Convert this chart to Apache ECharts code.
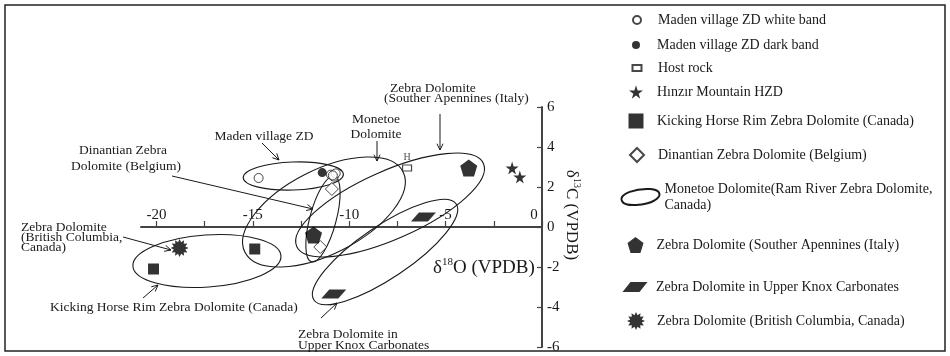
<!DOCTYPE html>
<html><head><meta charset="utf-8">
<script src="https://cdn.jsdelivr.net/npm/echarts@6/dist/echarts.min.js"></script>
<style>html,body{margin:0;padding:0;background:#fff}#c{width:950px;height:356px}</style>
</head><body><div id="c"></div>
<script>
// ---- axis ticks / labels ----
const xTicks = [-20, -17.5, -15, -12.5, -10, -7.5, -5, -2.5, 0];
const xLabels = [-20, -15, -10, -5, 0];
const yTicks = [-6, -4, -2, 0, 2, 4, 6];

// ---- data (δ18O, δ13C) ----
const madenWhite = [[-14.7, 2.45], [-10.95, 2.62], [-10.8, 2.52], [-10.7, 2.68], [-10.85, 2.58]];
const madenDark = [[-11.4, 2.72]];
const hostRock = [[-7.0, 2.95]];
const hinzir = [[-1.55, 2.95], [-1.15, 2.5]];
const kickingHorse = [[-20.15, -2.1], [-14.9, -1.1]];
const dinantian = [[-10.9, 1.9], [-11.5, -1.0]];
const apennines = [[-11.85, -0.4], [-3.8, 2.95]];
const upperKnox = [[-6.15, 0.5], [-10.8, -3.35]];
const britishColumbia = [[-18.8, -1.05]];
// field ellipses: [centre δ18O, centre δ13C, semi-major, semi-minor, tilt deg]
const ellipses = [
  [-12.9, 2.55, 2.6, 0.7, 2],
  [-11.36, 0.4, 2.3, 0.66, 75],
  [-11.31, 0.75, 4.6, 2.1, 27],
  [-7.88, 1.1, 5.3, 1.7, 24],
  [-8.14, -1.25, 4.45, 1.3, 34],
  [-17.38, -1.7, 3.85, 1.3, 4]
];

const names = {
  white: 'Maden village ZD white band',
  dark: 'Maden village ZD dark band',
  host: 'Host rock',
  hinzir: 'H\u0131nz\u0131r Mountain HZD',
  kh: 'Kicking Horse Rim Zebra Dolomite (Canada)',
  din: 'Dinantian Zebra Dolomite (Belgium)',
  mon: 'Monetoe Dolomite(Ram River Zebra Dolomite,\nCanada)',
  ape: 'Zebra Dolomite (Souther Apennines (Italy)',
  knox: 'Zebra Dolomite in Upper Knox Carbonates',
  bc: 'Zebra Dolomite (British Columbia, Canada)'
};

const FONT = '"Liberation Serif", "Times New Roman", serif';
const INK = '#1a1a1a';

// symbol shapes
const STAR = 'path://M50,0 L61,35 L98,35 L68,57 L79,91 L50,70 L21,91 L32,57 L2,35 L39,35 Z';
const PENT = 'path://M50,0 L100,37 L81,100 L19,100 L0,37 Z';
const PARA = 'path://M32,0 L100,0 L68,40 L0,40 Z';
const ELL = 'path://M5,30 C-5,12 40,0 70,2 C95,4 98,18 80,28 C60,40 12,44 5,30 Z';
function burst() {
  let d = '';
  for (let i = 0; i < 24; i++) {
    const r = i % 2 === 0 ? 50 : 33;
    const a = (i * 15 - 90) * Math.PI / 180;
    d += (i === 0 ? 'M' : 'L') + (50 + r * Math.cos(a)).toFixed(1) + ',' + (50 + r * Math.sin(a)).toFixed(1) + ' ';
  }
  return 'path://' + d + 'Z';
}
const BURST = burst();

function renderEllipse(params, api) {
  const c = api.coord([api.value(0), api.value(1)]);
  const s = api.size([api.value(2), api.value(3)]);
  return {
    type: 'ellipse', x: c[0], y: c[1],
    rotation: api.value(4) * Math.PI / 180,
    shape: { cx: 0, cy: 0, rx: s[0], ry: s[1] },
    style: { fill: 'none', stroke: INK, lineWidth: 1.1 },
    silent: true
  };
}

// ---- annotations (layout) ----
const arrows = [
  [440, 114, 440, 150], [377, 141, 377, 161], [262, 143, 279, 160],
  [172, 176, 313, 209], [123, 237, 171, 250], [143, 298, 158, 285], [321, 318, 337, 303]
];
const notes = [
  ['Zebra Dolomite', 390, 88, 'left'], ['(Souther Apennines (Italy)', 384, 98, 'left'],
  ['Monetoe', 376, 119, 'center'], ['Dolomite', 376, 134, 'center'],
  ['Maden village ZD', 264, 136, 'center'],
  ['Dinantian Zebra', 123, 150, 'center'], ['Dolomite (Belgium)', 126, 166, 'center'],
  ['Zebra Dolomite', 21, 227, 'left'], ['(British Columbia,', 21, 237, 'left'], ['Canada)', 21, 247, 'left'],
  ['Kicking Horse Rim Zebra Dolomite (Canada)', 50, 307, 'left'],
  ['Zebra Dolomite in', 298, 334, 'left'], ['Upper Knox Carbonates', 298, 345, 'left']
];

const graphic = [
  { type: 'rect', shape: { x: 5, y: 5, width: 940, height: 346 }, style: { fill: 'none', stroke: '#222', lineWidth: 1.5 }, z: 100 }
];
arrows.forEach(([x1, y1, x2, y2]) => {
  const a = Math.atan2(y2 - y1, x2 - x1), L = 7, sp = 0.45;
  graphic.push({ type: 'line', shape: { x1, y1, x2, y2 }, style: { stroke: INK, lineWidth: 1 } });
  graphic.push({ type: 'polyline', shape: { points: [
    [x2 - L * Math.cos(a - sp), y2 - L * Math.sin(a - sp)], [x2, y2],
    [x2 - L * Math.cos(a + sp), y2 - L * Math.sin(a + sp)]] },
    style: { stroke: INK, lineWidth: 1, fill: 'none' } });
});
notes.forEach(([t, x, y, al]) => {
  graphic.push({ type: 'text', x, y, style: { text: t, fontFamily: FONT, fontSize: 13.5, fill: INK, align: al, verticalAlign: 'middle' } });
});
graphic.push({ type: 'text', x: 433, y: 268, style: {
  text: '{a|\u03b4}{s|18}{a|O (VPDB)}', fontFamily: FONT, fill: INK, align: 'left', verticalAlign: 'middle',
  rich: { a: { fontSize: 19, fontFamily: FONT, fill: INK, lineHeight: 22 }, s: { fontSize: 11, fontFamily: FONT, fill: INK, verticalAlign: 'top', lineHeight: 22 } } } });

// ---- legend layout ----
const legendRows = [
  [names.white, 20, 8, 8, 'circle'],
  [names.dark, 45, 8, 8, 'circle'],
  [names.host, 68, 9, 6, 'rect'],
  [names.hinzir, 92, 14, 14, STAR],
  [names.kh, 121, 15, 15, 'rect'],
  [names.din, 155, 14, 14, 'diamond'],
  [names.mon, 197, 38, 20, ELL],
  [names.ape, 245, 17, 16, PENT],
  [names.knox, 287, 27, 10, PARA],
  [names.bc, 321, 18, 18, BURST]
];
const legend = legendRows.map(([nm, cy, w, h, icon]) => {
  const cx = (icon === ELL) ? 638 : 636;
  const left = cx - w / 2;
  const twoLine = nm.indexOf('\n') >= 0;
  const boxH = Math.max(h, twoLine ? 32 : 16);
  return {
    data: [{ name: nm, icon: icon }], left: left, top: cy - boxH / 2,
    itemWidth: w, itemHeight: h, selectedMode: false, padding: 0,
    textStyle: { fontFamily: FONT, fontSize: 14, color: INK, lineHeight: 16,
      padding: [0, 0, 0, Math.max(0, 657 - (left + w + 5))] }
  };
});

const open = { color: '#fff', borderColor: INK, borderWidth: 1 };
const solid = { color: '#000' };

const chart = echarts.init(document.getElementById('c'), null, { renderer: 'canvas' });
chart.setOption({
  animation: false,
  backgroundColor: '#fff',
  textStyle: { fontFamily: FONT },
  grid: [
    { left: 141, right: 408, top: 107, bottom: 9 },
    { left: 141, right: 408, top: 227, height: 60 }
  ],
  xAxis: [
    { type: 'value', gridIndex: 0, min: -20.8, max: 0, show: false },
    {
      type: 'value', gridIndex: 1, min: -20.8, max: 0, position: 'top',
      axisLine: { onZero: false, lineStyle: { color: '#444', width: 2 } },
      axisTick: { customValues: xTicks, length: 6, lineStyle: { color: '#444', width: 1.2 } },
      axisLabel: { customValues: xLabels, margin: 4, fontFamily: FONT, fontSize: 15, color: INK,
        formatter: v => v === 0 ? '{z|0}' : String(v), rich: { z: { fontFamily: FONT, fontSize: 15, color: INK, padding: [0, 16, 0, 0] } } },
      splitLine: { show: false }
    }
  ],
  yAxis: [
    {
      type: 'value', gridIndex: 0, min: -6, max: 6, interval: 2, position: 'right',
      axisLine: { show: true, onZero: false, lineStyle: { color: '#444', width: 2 } },
      axisTick: { show: true, inside: true, length: 5, lineStyle: { color: '#444', width: 1.2 } },
      axisLabel: { margin: 5, fontFamily: FONT, fontSize: 15, color: INK },
      splitLine: { show: false },
      name: '{a|\u03b4}{s|13}{a|C (VPDB)}', nameLocation: 'middle', nameRotate: -90, nameGap: 13,
      nameTextStyle: { padding: [0, 24, 0, 0], rich: { a: { fontSize: 17, fontFamily: FONT, color: INK, lineHeight: 20 }, s: { fontSize: 10, fontFamily: FONT, color: INK, verticalAlign: 'top', lineHeight: 20 } } }
    },
    { type: 'value', gridIndex: 1, min: 0, max: 1, show: false }
  ],
  legend: legend,
  graphic: graphic,
  series: [
    { name: names.mon, type: 'custom', renderItem: renderEllipse, data: ellipses, encode: { x: 0, y: 1 }, z: 1,
      itemStyle: { color: 'none', borderColor: INK, borderWidth: 1.5 } },
    { name: names.white, type: 'scatter', data: madenWhite, symbol: 'circle', symbolSize: 9, itemStyle: open, z: 3 },
    { name: names.dark, type: 'scatter', data: madenDark, symbol: 'circle', symbolSize: 9, itemStyle: solid, z: 3 },
    { name: names.host, type: 'scatter', data: hostRock, symbol: 'rect', symbolSize: [9, 6], itemStyle: open, z: 3,
      label: { show: true, formatter: 'H', position: 'top', distance: 2, fontSize: 10, fontFamily: FONT, color: INK } },
    { name: names.hinzir, type: 'scatter', data: hinzir, symbol: STAR, symbolSize: 13, itemStyle: solid, z: 3 },
    { name: names.kh, type: 'scatter', data: kickingHorse, symbol: 'rect', symbolSize: 11, itemStyle: solid, z: 3 },
    { name: names.din, type: 'scatter', data: dinantian, symbol: 'diamond', symbolSize: 13, itemStyle: open, z: 3 },
    { name: names.ape, type: 'scatter', data: apennines, symbol: PENT, symbolSize: 17, itemStyle: solid, z: 3 },
    { name: names.knox, type: 'scatter', data: upperKnox, symbol: PARA, symbolSize: [25, 9], itemStyle: solid, z: 3 },
    { name: names.bc, type: 'scatter', data: britishColumbia, symbol: BURST, symbolSize: 18, itemStyle: solid, z: 3 }
  ]
});
</script></body></html>
